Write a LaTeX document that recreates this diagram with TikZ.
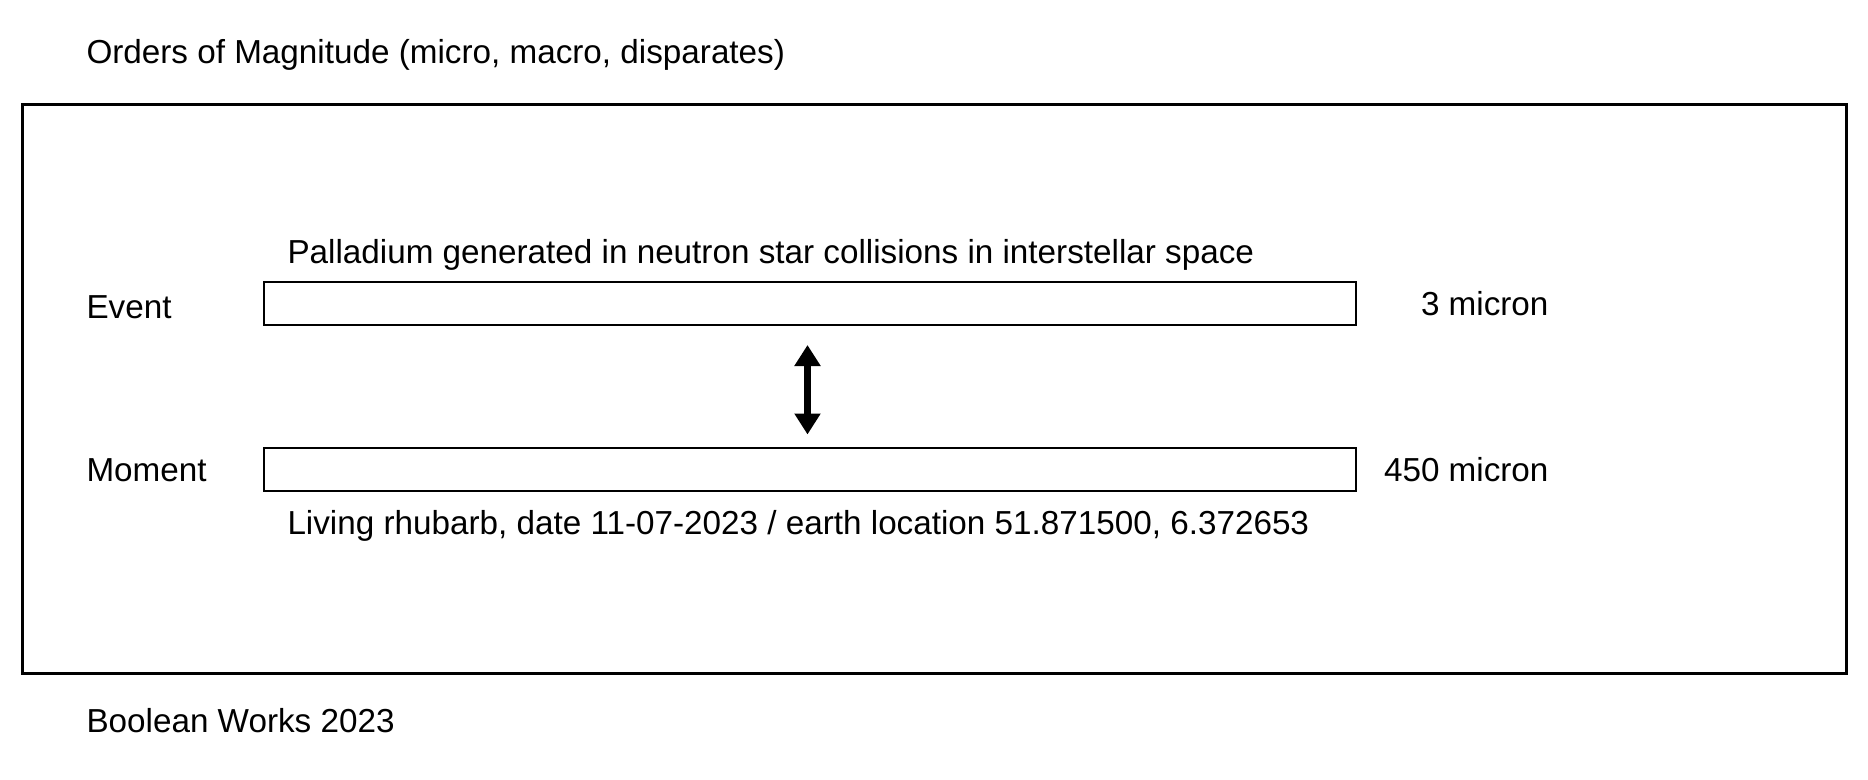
\documentclass[tikz,border=0pt]{standalone}
\usepackage{fontspec}
\setmainfont{Liberation Sans}
\usepackage{tikz}
\usetikzlibrary{arrows.meta,positioning}

\begin{document}
\begin{tikzpicture}[x=0.4pt,y=-0.4pt,font=\fontsize{13.3pt}{16pt}\selectfont]
        \tikzstyle{label}=[inner sep=0pt,anchor=base west]
        \tikzstyle{value}=[inner sep=0pt,anchor=base east]
        \tikzstyle{bar}=[rectangle,draw=black,line width=0.8pt,minimum width=436.8pt,minimum height=17.2pt,inner sep=0pt]
        \useasboundingbox (0,0) rectangle (1868,780);
        % outer frame
        \draw[line width=1.2pt] (22.5,104.5) rectangle (1846,673.5);
        \node[label](title) at (86,64) {Orders of Magnitude (micro, macro, disparates)};
        \node[bar](event) at (810,303.5) {};
        \node[bar](moment) at (810,469) {};
        \node[label](evlab) at (86,318) {Event};
        \node[label](molab) at (86,481) {Moment};
        \node[label](evtext) at (287,263) {Palladium generated in neutron star collisions in interstellar space};
        \node[label](motext) at (287,534) {Living rhubarb, date 11-07-2023 / earth location 51.871500, 6.372653};
        \node[value](evsize) at (1549,315) {3 micron};
        \node[value](mosize) at (1549,481) {450 micron};
        \node[label](credit) at (86,732) {Boolean Works 2023};
        % link between the two bars
        \draw[line width=2.8pt,{Triangle[length=8.4pt,width=10pt]}-{Triangle[length=8.4pt,width=10pt]},
            shorten <=7.6pt,shorten >=4.8pt] ([xshift=-1pt]event.south) -- ([xshift=-1pt]moment.north);
    \end{tikzpicture}
\end{document}
